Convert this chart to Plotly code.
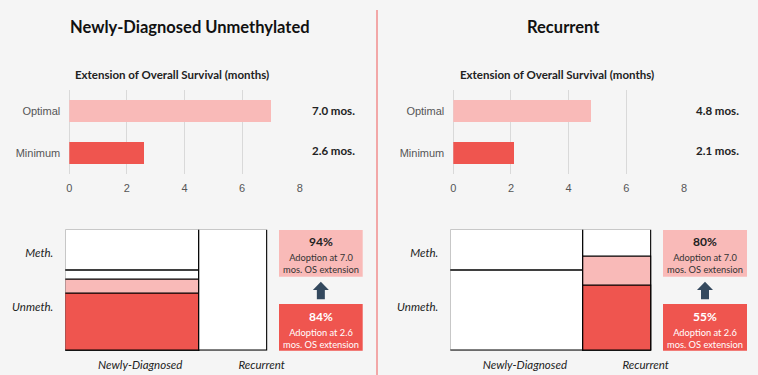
import plotly.graph_objects as go

W, H = 758, 375

# ---------------- data ----------------
panel_titles = ["Newly-Diagnosed Unmethylated", "Recurrent"]
bar_subtitle = "Extension of Overall Survival (months)"
bar_categories = ["Minimum", "Optimal"]
os_left = [2.6, 7.0]
os_right = [2.1, 4.8]
os_ticks = [0, 2, 4, 6, 8]

mosaic_columns = ["Newly-Diagnosed", "Recurrent"]
column_share = [0.66, 0.34]            # width share of each column
nd_meth_share = 33.5                   # % of newly-diagnosed that is methylated
# drawn fill heights (% of column)
left_fill_optimal = 59.0               # ND unmethylated, optimal
left_fill_minimum = 47.5               # ND unmethylated, minimum
right_fill_optimal = 78.0              # Recurrent, optimal
right_fill_minimum = 54.0              # Recurrent, minimum
row_labels = ["Meth.", "Unmeth."]

adoption_left = [94, 84]
adoption_right = [80, 55]
adoption_os = [7.0, 2.6]

PINK = "#f9bab8"
RED = "#ef554f"
ARROW = "#34495e"
BG = "#f5f5f5"
TXT = "#222222"
GRID = "#d9d9d9"
TITLE_FONT = "Lato"
TICK_FONT = "Liberation Sans"

def px(x):
    return x / W

def py(y):
    return 1 - y / H

fig = go.Figure()

# --------------- bar charts ---------------
for i, vals in enumerate([os_left, os_right]):
    ax = "" if i == 0 else "2"
    fig.add_trace(go.Bar(
        y=bar_categories, x=vals, orientation="h",
        marker=dict(color=[RED, PINK], line=dict(width=0)),
        width=0.52, xaxis="x" + ax, yaxis="y" + ax,
        showlegend=False, hoverinfo="skip"))

# --------------- mosaics ---------------
col_x = [column_share[0] / 2, column_share[0] + column_share[1] / 2]

def cell(ax, xc, w, base, h, color):
    fig.add_trace(go.Bar(
        x=[xc], y=[h], base=[base], width=[w],
        marker=dict(color=color, line=dict(color="black", width=1.2)),
        xaxis="x" + ax, yaxis="y" + ax, showlegend=False, hoverinfo="skip"))

# left mosaic
cell("3", col_x[0], column_share[0], 100 - nd_meth_share, nd_meth_share, "white")
cell("3", col_x[0], column_share[0], 0, 100 - nd_meth_share, "white")
cell("3", col_x[0], column_share[0], 0, left_fill_optimal, PINK)
cell("3", col_x[0], column_share[0], 0, left_fill_minimum, RED)
cell("3", col_x[1], column_share[1], 0, 100, "white")
# right mosaic
cell("4", col_x[0], column_share[0], 100 - nd_meth_share, nd_meth_share, "white")
cell("4", col_x[0], column_share[0], 0, 100 - nd_meth_share, "white")
cell("4", col_x[1], column_share[1], 0, 100, "white")
cell("4", col_x[1], column_share[1], 0, right_fill_optimal, PINK)
cell("4", col_x[1], column_share[1], 0, right_fill_minimum, RED)

layout = dict(
    width=W, height=H, margin=dict(l=0, r=0, t=0, b=0, pad=0),
    autosize=False,
    paper_bgcolor=BG, plot_bgcolor="rgba(0,0,0,0)",
    barmode="overlay", bargap=0, showlegend=False,
)

bar_x_domains = [[px(69.3), px(299.7)], [px(453.3), px(684.0)]]
for i, dom in enumerate(bar_x_domains):
    s = "" if i == 0 else "2"
    layout["xaxis" + s] = dict(
        domain=dom, range=[0, 8], tickvals=os_ticks, showgrid=True,
        gridcolor=GRID, gridwidth=1, zeroline=True, zerolinecolor=GRID,
        zerolinewidth=1, showline=False, ticks="", anchor="y" + s,
        automargin=False, ticklabelstandoff=6,
        tickfont=dict(family=TICK_FONT, size=11, color="#555555"),
        fixedrange=True)
    layout["yaxis" + s] = dict(
        domain=[py(174), py(90)], type="category", range=[-0.5, 1.5],
        showgrid=False, zeroline=False, ticks="", anchor="x" + s,
        ticklabelstandoff=8, automargin=False,
        tickfont=dict(family=TICK_FONT, size=11, color="#555555"),
        fixedrange=True)

mosaic_x_domains = [[px(65.3), px(267.7)], [px(450.3), px(651.7)]]
for i, dom in enumerate(mosaic_x_domains):
    s = str(3 + i)
    layout["xaxis" + s] = dict(
        domain=dom, range=[0, 1], showgrid=False, zeroline=False,
        tickvals=[0.37, 0.97], ticktext=["<i>%s</i>" % c for c in mosaic_columns],
        ticks="", anchor="y" + s, showline=False, automargin=False,
        ticklabelstandoff=6,
        tickfont=dict(family=TITLE_FONT, size=11.5, color=TXT), fixedrange=True)
    layout["yaxis" + s] = dict(
        domain=[py(350.7), py(229.7)], range=[0, 100], showgrid=False,
        zeroline=False, tickvals=[81, 36], automargin=False,
        ticktext=["<i>%s</i>" % r for r in row_labels], ticks="",
        anchor="x" + s, ticklabelstandoff=11,
        tickfont=dict(family=TITLE_FONT, size=11.5, color=TXT), fixedrange=True)

fig.update_layout(**layout)

# --------------- texts ---------------
ann = []
title_x = [190, 563]
sub_x = [172, 557]
for i in range(2):
    ann.append(dict(x=px(title_x[i]), y=py(27), xref="paper", yref="paper",
                    text="<b>%s</b>" % panel_titles[i], showarrow=False,
                    xanchor="center", yanchor="middle",
                    font=dict(family=TITLE_FONT, size=16.5, color="#111111")))
    ann.append(dict(x=px(sub_x[i]), y=py(75), xref="paper", yref="paper",
                    text="<b>%s</b>" % bar_subtitle, showarrow=False,
                    xanchor="center", yanchor="middle",
                    font=dict(family=TITLE_FONT, size=11.5, color=TXT)))

val_x = [310, 694]
for i, vals in enumerate([os_left, os_right]):
    s = "" if i == 0 else "2"
    for cat, v, ys in zip(bar_categories, vals, [3, 1]):
        ann.append(dict(x=px(val_x[i]), y=cat, xref="paper", yref="y" + s,
                        xanchor="left", yshift=ys, text="<b>%.1f mos.</b>" % v,
                        showarrow=False, yanchor="middle",
                        font=dict(family=TITLE_FONT, size=11.5, color=TXT)))

# adoption boxes
box_x = [(279, 362.7), (663, 747)]
shapes = []
for i, ad in enumerate([adoption_left, adoption_right]):
    x0, x1 = box_x[i]
    xc = (x0 + x1) / 2
    shapes.append(dict(type="rect", xref="paper", yref="paper",
                       x0=px(x0), x1=px(x1), y0=py(276.7), y1=py(230),
                       fillcolor=PINK, line=dict(width=0), layer="below"))
    shapes.append(dict(type="rect", xref="paper", yref="paper",
                       x0=px(x0), x1=px(x1), y0=py(350.7), y1=py(304),
                       fillcolor=RED, line=dict(width=0), layer="below"))
    # arrow
    pts = [(xc, 281.7), (xc + 8, 290), (xc + 4, 290), (xc + 4, 299.3),
           (xc - 4, 299.3), (xc - 4, 290), (xc - 8, 290)]
    path = "M " + " L ".join("%f,%f" % (px(a), py(b)) for a, b in pts) + " Z"
    shapes.append(dict(type="path", xref="paper", yref="paper", path=path,
                       fillcolor=ARROW, line=dict(width=0)))
    for k, (yt, col) in enumerate([(241, "#222222"), (316, "white")]):
        ann.append(dict(x=px(xc), y=py(yt), xref="paper", yref="paper",
                        text="<b>%d%%</b>" % ad[k], showarrow=False,
                        xanchor="center", yanchor="middle",
                        font=dict(family=TITLE_FONT, size=12, color=col)))
        ann.append(dict(x=px(xc), y=py(yt + 22.5), xref="paper", yref="paper",
                        text="Adoption at %.1f<br>mos. OS extension" % adoption_os[k],
                        showarrow=False, align="center",
                        xanchor="center", yanchor="middle",
                        font=dict(family=TITLE_FONT, size=9.3,
                                  color="#333333" if k == 0 else "white")))

# divider
shapes.append(dict(type="line", xref="paper", yref="paper",
                   x0=px(377), x1=px(377), y0=py(10), y1=0,
                   line=dict(color="#f08c8c", width=1.5)))

fig.update_layout(annotations=ann, shapes=shapes)
fig.write_html(
    "out.html",
    config={"displayModeBar": False},
    post_script="document.body.style.margin='0';document.body.style.overflow='hidden';",
)
